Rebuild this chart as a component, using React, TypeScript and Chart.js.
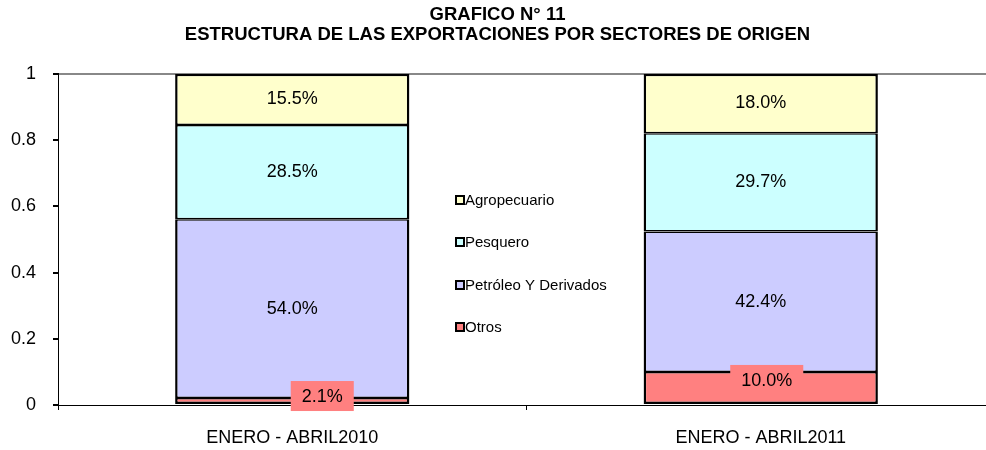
import React, { useEffect, useRef } from "react";
import { Chart, registerables } from "chart.js";

Chart.register(...registerables);

const categories = ["ENERO - ABRIL2010", "ENERO - ABRIL2011"];
const seriesNames = ["Otros", "Petróleo Y Derivados", "Pesquero", "Agropecuario"];
const otros = [0.021, 0.1];
const petroleo = [0.54, 0.424];
const pesquero = [0.285, 0.297];
const agropecuario = [0.155, 0.18];
const colors = ["#FF8080", "#CCCCFF", "#CCFFFF", "#FFFFCC"];
const yTicks = [0, 0.2, 0.4, 0.6, 0.8, 1];
const titleLines = ["GRAFICO N° 11", "ESTRUCTURA DE LAS EXPORTACIONES POR SECTORES DE ORIGEN"];

const FONT = "Arial, 'Liberation Sans', sans-serif";

const labelPlugin = {
  id: "segLabels",
  afterDatasetsDraw(chart: any) {
    const ctx = chart.ctx;
    ctx.save();
    ctx.font = `18px ${FONT}`;
    ctx.textAlign = "center";
    ctx.textBaseline = "middle";
    const otrosDx = [30, 6];
    const otrosDy = [-5, -8];
    chart.data.datasets.forEach((ds: any, di: number) => {
      const meta = chart.getDatasetMeta(di);
      meta.data.forEach((bar: any, i: number) => {
        const v = ds.data[i];
        const txt = (v * 100).toFixed(1) + "%";
        const cy = (bar.y + bar.base) / 2;
        if (di === 0) {
          const x = bar.x + otrosDx[i];
          const y = cy + otrosDy[i];
          const w = ctx.measureText(txt).width + 22;
          ctx.fillStyle = colors[0];
          ctx.fillRect(x - w / 2, y - 15, w, 30);
          ctx.fillStyle = "#000";
          ctx.fillText(txt, x, y + 1);
        } else {
          ctx.fillStyle = "#000";
          ctx.fillText(txt, bar.x, cy);
        }
      });
    });
    ctx.restore();
  },
};

const legendPlugin = {
  id: "customLegend",
  afterDraw(chart: any) {
    const ctx = chart.ctx;
    ctx.save();
    ctx.font = `15px ${FONT}`;
    ctx.textBaseline = "middle";
    ctx.textAlign = "left";
    const ds = chart.data.datasets;
    const x0 = 455;
    const ys = [200, 242, 285, 327];
    for (let k = 0; k < ds.length; k++) {
      const d = ds[ds.length - 1 - k];
      const y = ys[k];
      ctx.fillStyle = "#000";
      ctx.fillRect(x0, y - 5, 10, 10);
      ctx.fillStyle = d.backgroundColor;
      ctx.fillRect(x0 + 2, y - 3, 6, 6);
      ctx.fillStyle = "#000";
      ctx.fillText(d.label, x0 + 10, y + 1);
    }
    ctx.restore();
  },
};

export default function App() {
  const ref = useRef<HTMLCanvasElement>(null);
  useEffect(() => {
    document.body.style.overflow = "hidden";
    const series = [otros, petroleo, pesquero, agropecuario];
    const chart = new Chart(ref.current!, {
      type: "bar",
      data: {
        labels: categories,
        datasets: series.map((s, i) => ({
          label: seriesNames[i],
          data: s,
          backgroundColor: colors[i],
          borderColor: "#000",
          borderWidth: {
            left: 2.5,
            right: 2.5,
            bottom: i === 0 ? 2.5 : 1.5,
            top: i === series.length - 1 ? 2.5 : 1.5,
          },
          borderSkipped: false,
          barPercentage: 0.5,
          categoryPercentage: 1,
        })),
      },
      options: {
        responsive: false,
        animation: false,
        layout: { padding: { left: 0, right: 8, top: 0, bottom: 0 } },
        plugins: {
          legend: { display: false },
          tooltip: { enabled: false },
          title: {
            display: true,
            text: titleLines,
            color: "#000",
            font: { family: FONT, size: 18.5, weight: "bold", lineHeight: 1.08 },
            padding: { top: 5, bottom: 29 },
          },
        },
        scales: {
          x: {
            stacked: true,
            afterFit: (s: any) => { s.height = 45; },
            border: { color: "#000", width: 1 },
            grid: { drawOnChartArea: false, color: "#000", tickLength: 5, offset: true },
            ticks: { color: "#000", font: { family: FONT, size: 18 }, padding: 17 },
          },
          y: {
            stacked: true,
            min: 0,
            max: 1,
            afterFit: (s: any) => { s.width = 58; },
            afterBuildTicks: (s: any) => { s.ticks = yTicks.map((v) => ({ value: v })); },
            border: { color: "#000", width: 1 },
            grid: {
              color: (c: any) => (c.tick && c.tick.value === 1 ? "#888888" : "rgba(0,0,0,0)"),
              lineWidth: 2,
              tickColor: "#000",
              tickLength: 5,
            },
            ticks: {
              color: "#000",
              font: { family: FONT, size: 18 },
              padding: 17,
              callback: (v: any) => String(v),
            },
          },
        },
      },
      plugins: [labelPlugin, legendPlugin],
    } as any);
    return () => chart.destroy();
  }, []);
  return (
    <div style={{ position: "absolute", left: 0, top: 0, width: 986, height: 450, overflow: "hidden", background: "#fff" }}>
      <canvas ref={ref} width={1003} height={450} style={{ width: 1003, height: 450 }} />
    </div>
  );
}
